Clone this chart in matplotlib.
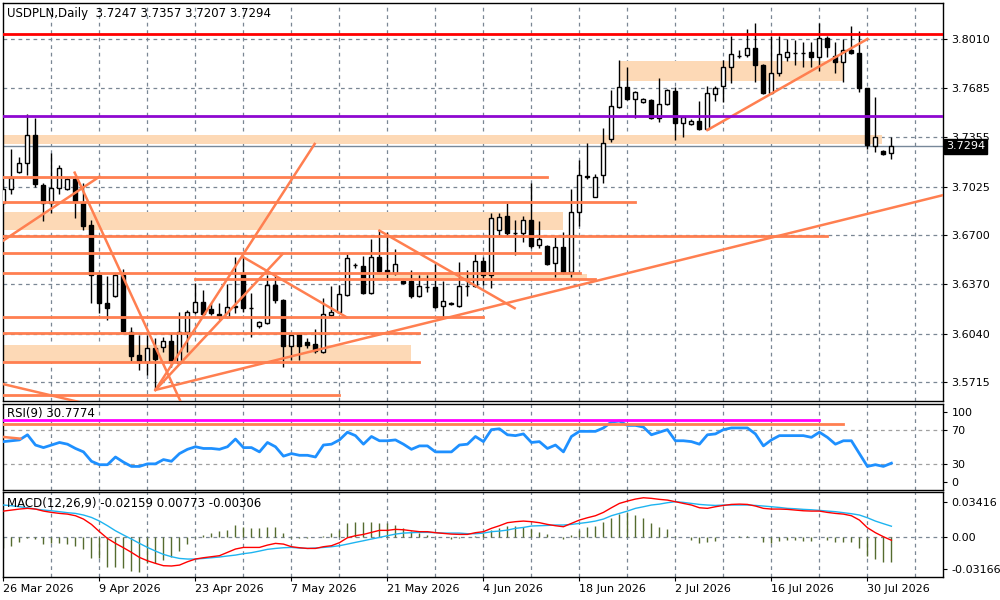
import numpy as np
import matplotlib.pyplot as plt
from matplotlib.transforms import blended_transform_factory

# daily candles, USDPLN
opens = [3.6915, 3.7009, 3.7122, 3.7183, 3.7370, 3.7035, 3.6915, 3.7015, 3.7009, 3.7075,
         3.6915, 3.6768, 3.6433, 3.6246, 3.6293, 3.6433, 3.6052, 3.5898, 3.5851, 3.5945,
         3.5952, 3.5992, 3.5845, 3.6052, 3.6186, 3.6253, 3.6206, 3.6172, 3.6152, 3.6219,
         3.6440, 3.6212, 3.6092, 3.6112, 3.6366, 3.6266, 3.5958, 3.6039, 3.5985, 3.5972,
         3.5918, 3.6166, 3.6186, 3.6299, 3.6500, 3.6493, 3.6313, 3.6554, 3.6467, 3.6447,
         3.6393, 3.6393, 3.6293, 3.6353, 3.6353, 3.6226, 3.6246, 3.6226, 3.6360, 3.6360,
         3.6527, 3.6433, 3.6734, 3.6828, 3.6714, 3.6714, 3.6801, 3.6634, 3.6627, 3.6514,
         3.6621, 3.6453, 3.6855, 3.7096, 3.6955, 3.7102, 3.7343, 3.7557, 3.7691, 3.7611,
         3.7591, 3.7604, 3.7484, 3.7577, 3.7664, 3.7450, 3.7443, 3.7464, 3.7410, 3.7644,
         3.7698, 3.7825, 3.7898, 3.7905, 3.7952, 3.7838, 3.7651, 3.7785, 3.7892, 3.7918,
         3.7918, 3.7925, 3.7892, 3.8019, 3.7898, 3.7858, 3.7938, 3.7918, 3.7684, 3.7296,
         3.7263, 3.7247]
highs = [3.7029, 3.7276, 3.7223, 3.7510, 3.7484, 3.7049, 3.7249, 3.7169, 3.7089, 3.7096,
         3.7049, 3.6801, 3.6453, 3.6427, 3.6447, 3.6473, 3.6085, 3.6032, 3.6032, 3.6012,
         3.6018, 3.6045, 3.6186, 3.6199, 3.6380, 3.6333, 3.6246, 3.6246, 3.6373, 3.6554,
         3.6554, 3.6313, 3.6125, 3.6433, 3.6433, 3.6273, 3.6039, 3.6045, 3.6012, 3.6072,
         3.6279, 3.6360, 3.6366, 3.6574, 3.6514, 3.6560, 3.6674, 3.6734, 3.6721, 3.6607,
         3.6400, 3.6467, 3.6433, 3.6433, 3.6507, 3.6393, 3.6253, 3.6520, 3.6467, 3.6580,
         3.6554, 3.6848, 3.6848, 3.6915, 3.6801, 3.6828, 3.7049, 3.6795, 3.6634, 3.6687,
         3.6721, 3.7009, 3.7203, 3.7316, 3.7109, 3.7417, 3.7671, 3.7872, 3.7825, 3.7664,
         3.7617, 3.7611, 3.7751, 3.7678, 3.7691, 3.7490, 3.7477, 3.7597, 3.7698, 3.7698,
         3.7872, 3.8032, 3.7938, 3.8079, 3.8119, 3.7845, 3.8032, 3.8032, 3.8012, 3.8005,
         3.7992, 3.7992, 3.8119, 3.8032, 3.7992, 3.8012, 3.8099, 3.8066, 3.7684, 3.7624,
         3.7270, 3.7357]
lows = [3.6908, 3.6975, 3.7116, 3.7102, 3.7022, 3.6795, 3.6848, 3.6975, 3.7002, 3.6815,
        3.6734, 3.6246, 3.6179, 3.6132, 3.6286, 3.6052, 3.5858, 3.5798, 3.5764, 3.5664,
        3.5918, 3.5818, 3.5838, 3.5918, 3.6172, 3.6166, 3.6166, 3.6139, 3.6146, 3.6179,
        3.6186, 3.6018, 3.6079, 3.6105, 3.6246, 3.5818, 3.5865, 3.5865, 3.5945, 3.5911,
        3.5911, 3.6152, 3.6179, 3.6293, 3.6480, 3.6306, 3.6306, 3.6453, 3.6413, 3.6433,
        3.6373, 3.6279, 3.6286, 3.6320, 3.6212, 3.6152, 3.6233, 3.6219, 3.6293, 3.6353,
        3.6366, 3.6346, 3.6701, 3.6701, 3.6567, 3.6654, 3.6614, 3.6614, 3.6500, 3.6420,
        3.6440, 3.6420, 3.6761, 3.7075, 3.6955, 3.7049, 3.7323, 3.7550, 3.7604, 3.7484,
        3.7584, 3.7477, 3.7457, 3.7571, 3.7336, 3.7356, 3.7437, 3.7403, 3.7403, 3.7597,
        3.7591, 3.7718, 3.7885, 3.7892, 3.7724, 3.7644, 3.7644, 3.7765, 3.7865, 3.7838,
        3.7825, 3.7825, 3.7798, 3.7892, 3.7785, 3.7724, 3.7912, 3.7658, 3.7276, 3.7256,
        3.7236, 3.7207]
closes = [3.7009, 3.7082, 3.7183, 3.7370, 3.7042, 3.6915, 3.7015, 3.7149, 3.7075, 3.6928,
          3.6761, 3.6433, 3.6246, 3.6212, 3.6433, 3.6059, 3.5891, 3.5851, 3.5945, 3.5871,
          3.5992, 3.5851, 3.6052, 3.6186, 3.6253, 3.6172, 3.6179, 3.6159, 3.6219, 3.6226,
          3.6212, 3.6212, 3.6119, 3.6366, 3.6266, 3.5958, 3.6032, 3.5958, 3.5965, 3.5925,
          3.6172, 3.6186, 3.6306, 3.6547, 3.6500, 3.6313, 3.6554, 3.6460, 3.6453, 3.6507,
          3.6380, 3.6293, 3.6360, 3.6353, 3.6219, 3.6259, 3.6239, 3.6360, 3.6360, 3.6527,
          3.6433, 3.6815, 3.6821, 3.6714, 3.6714, 3.6801, 3.6627, 3.6674, 3.6507, 3.6621,
          3.6453, 3.6855, 3.7102, 3.7089, 3.7089, 3.7316, 3.7564, 3.7691, 3.7611, 3.7658,
          3.7611, 3.7484, 3.7577, 3.7671, 3.7450, 3.7490, 3.7464, 3.7410, 3.7651, 3.7684,
          3.7825, 3.7912, 3.7898, 3.7952, 3.7838, 3.7651, 3.7785, 3.7912, 3.7925, 3.7918,
          3.7918, 3.7892, 3.8019, 3.7959, 3.7858, 3.7938, 3.7918, 3.7684, 3.7303, 3.7356,
          3.7243, 3.7294]

rsi = [56, 57, 58, 64, 52, 49, 52, 55, 53, 48,
       44, 33, 29, 29, 38, 32, 27, 27, 30, 30,
       35, 33, 42, 47, 50, 48, 48, 47, 50, 59,
       49, 49, 44, 55, 50, 39, 42, 40, 40, 38,
       52, 53, 58, 67, 63, 53, 62, 57, 57, 58,
       53, 47, 51, 51, 44, 44, 44, 52, 53, 62,
       56, 70, 71, 64, 63, 65, 55, 56, 48, 52,
       44, 62, 68, 68, 68, 72, 79, 80, 75, 75,
       73, 64, 67, 70, 57, 57, 56, 53, 64, 65,
       70, 72, 72, 72, 65, 51, 58, 63, 63, 63,
       63, 61, 67, 61, 53, 57, 57, 42, 27, 29,
       27, 30.78]

macd_main = [0.0254, 0.0264, 0.0274, 0.0281, 0.0274, 0.0254, 0.0241, 0.0231, 0.0224, 0.0208,
             0.0175, 0.0122, 0.0050, -0.0017, -0.0066, -0.0109, -0.0155, -0.0205, -0.0238, -0.0264,
             -0.0287, -0.0290, -0.0281, -0.0248, -0.0221, -0.0208, -0.0198, -0.0188, -0.0155, -0.0122,
             -0.0106, -0.0106, -0.0106, -0.0083, -0.0066, -0.0073, -0.0099, -0.0109, -0.0116, -0.0116,
             -0.0099, -0.0089, -0.0059, -0.0010, 0.0010, 0.0023, 0.0043, 0.0063, 0.0063, 0.0073,
             0.0069, 0.0059, 0.0050, 0.0050, 0.0040, 0.0033, 0.0026, 0.0023, 0.0023, 0.0040,
             0.0050, 0.0083, 0.0109, 0.0139, 0.0149, 0.0155, 0.0149, 0.0139, 0.0122, 0.0109,
             0.0099, 0.0132, 0.0165, 0.0188, 0.0208, 0.0241, 0.0287, 0.0330, 0.0353, 0.0373,
             0.0386, 0.0380, 0.0370, 0.0363, 0.0347, 0.0330, 0.0314, 0.0287, 0.0281, 0.0297,
             0.0310, 0.0320, 0.0323, 0.0320, 0.0304, 0.0281, 0.0274, 0.0274, 0.0271, 0.0264,
             0.0257, 0.0254, 0.0254, 0.0241, 0.0231, 0.0224, 0.0208, 0.0165, 0.0089, 0.0040,
             0.0000, -0.0035]
macd_signal = [0.0314, 0.0307, 0.0297, 0.0287, 0.0274, 0.0264, 0.0257, 0.0248, 0.0238, 0.0231,
               0.0215, 0.0191, 0.0155, 0.0109, 0.0059, 0.0017, -0.0023, -0.0066, -0.0106, -0.0142,
               -0.0175, -0.0198, -0.0215, -0.0221, -0.0221, -0.0215, -0.0208, -0.0201, -0.0191, -0.0182,
               -0.0168, -0.0158, -0.0142, -0.0125, -0.0116, -0.0109, -0.0106, -0.0112, -0.0116, -0.0112,
               -0.0106, -0.0099, -0.0089, -0.0073, -0.0056, -0.0040, -0.0023, -0.0007, 0.0010, 0.0026,
               0.0036, 0.0040, 0.0043, 0.0043, 0.0040, 0.0036, 0.0036, 0.0036, 0.0030, 0.0030,
               0.0036, 0.0050, 0.0056, 0.0066, 0.0083, 0.0092, 0.0106, 0.0109, 0.0112, 0.0116,
               0.0116, 0.0122, 0.0132, 0.0142, 0.0155, 0.0175, 0.0208, 0.0231, 0.0254, 0.0281,
               0.0297, 0.0314, 0.0323, 0.0337, 0.0347, 0.0340, 0.0330, 0.0320, 0.0314, 0.0310,
               0.0314, 0.0314, 0.0314, 0.0314, 0.0310, 0.0304, 0.0297, 0.0290, 0.0281, 0.0277,
               0.0271, 0.0267, 0.0261, 0.0254, 0.0248, 0.0238, 0.0228, 0.0215, 0.0188, 0.0155,
               0.0129, 0.0104]
macd_hist = [-0.0116, -0.0089, -0.0050, -0.0010, -0.0023, -0.0073, -0.0066, -0.0059, -0.0076, -0.0089,
             -0.0122, -0.0208, -0.0215, -0.0304, -0.0304, -0.0314, -0.0337, -0.0347, -0.0264, -0.0264,
             -0.0231, -0.0205, -0.0139, -0.0073, -0.0017, 0.0017, 0.0033, 0.0056, 0.0066, 0.0116,
             0.0092, 0.0089, 0.0089, 0.0092, 0.0092, 0.0040, -0.0010, -0.0010, -0.0010, 0.0000,
             0.0007, 0.0040, 0.0066, 0.0132, 0.0142, 0.0142, 0.0149, 0.0139, 0.0132, 0.0116,
             0.0083, 0.0056, 0.0033, 0.0017, 0.0000, -0.0007, -0.0023, -0.0017, 0.0000, 0.0007,
             0.0033, 0.0066, 0.0083, 0.0106, 0.0106, 0.0099, 0.0073, 0.0050, 0.0023, 0.0000,
             -0.0026, 0.0017, 0.0066, 0.0092, 0.0109, 0.0149, 0.0188, 0.0224, 0.0248, 0.0215,
             0.0188, 0.0132, 0.0092, 0.0076, 0.0010, 0.0000, -0.0033, -0.0059, -0.0050, -0.0040,
             -0.0007, 0.0000, 0.0010, 0.0007, -0.0007, -0.0050, -0.0066, -0.0040, -0.0033, -0.0033,
             -0.0040, -0.0043, 0.0000, -0.0033, -0.0050, -0.0056, -0.0056, -0.0109, -0.0191, -0.0224,
             -0.0254, -0.0254]

date_labels = ['26 Mar 2026', '9 Apr 2026', '23 Apr 2026', '7 May 2026', '21 May 2026',
               '4 Jun 2026', '18 Jun 2026', '2 Jul 2026', '16 Jul 2026', '30 Jul 2026']
date_bars = [0, 12, 24, 36, 48, 60, 72, 84, 96, 108]
price_ticks = [3.8010, 3.7685, 3.7355, 3.7025, 3.6700, 3.6370, 3.6040, 3.5715]

# drawn objects (price levels, zones, trend lines) in bar / price units
red_level = 3.8044
purple_level = 3.7499
last_price = 3.7294
levels = [(3.7091, 68.0), (3.6920, 78.9), (3.6694, 102.9), (3.6582, 67.1),
          (3.6449, 72.1), (3.6151, 59.9), (3.6047, 51.9), (3.5853, 51.9), (3.5630, 41.9)]
short_level = (3.6405, 24.0, 73.9)
zones = [(3.7310, 3.7370, -1, 109.8), (3.7731, 3.7865, 76.9, 104.9),
         (3.6734, 3.6857, -1, 69.9), (3.6405, 3.6438, 46.4, 72.9),
         (3.5849, 3.5965, -1, 50.9)]
trends = [((-0.1, 3.6661), (12.0, 3.7091)),
          ((8.9, 3.7118), (22.2, 3.5580)),
          ((19.0, 3.5664), (38.9, 3.7310)),
          ((19.0, 3.5664), (34.9, 3.6574)),
          ((30.0, 3.6552), (42.9, 3.6150)),
          ((47.0, 3.6730), (63.9, 3.6211)),
          ((19.0, 3.5664), (117.5, 3.6968)),
          ((88.0, 3.7403), (108.0, 3.8012)),
          ((-0.1, 3.5704), (10.5, 3.5570))]

ORANGE = '#FF7F50'
PEACH = '#FDD9B6'
GRID = '#7A8794'

W, H = 1000, 600
fig = plt.figure(figsize=(10, 6), dpi=100)
plt.rcParams['font.family'] = ['DejaVu Sans']


def box(x0, y0, x1, y1):
    return [x0 / W, 1 - y1 / H, (x1 - x0) / W, (y1 - y0) / H]


ax = fig.add_axes(box(3, 3, 943, 401))
ax_rsi = fig.add_axes(box(3, 404, 943, 489.5))
ax_macd = fig.add_axes(box(3, 491.7, 943, 576.7))

x = np.arange(len(closes))
xlim = (-0.06, 117.45)
vgrid = np.arange(6, 117, 6)

for a in (ax, ax_rsi, ax_macd):
    a.set_xlim(*xlim)
    for v in vgrid:
        a.axvline(v, color=GRID, lw=0.9, ls=(0, (3, 3)), zorder=0)
    a.yaxis.tick_right()
    a.tick_params(axis='y', length=3, pad=3, labelsize=8, colors='black')
    for s in a.spines.values():
        s.set_color('black')
        s.set_linewidth(1)

# ---- price panel
ax.set_ylim(3.5590, 3.8253)
ax.set_xticks([])
ax.set_yticks(price_ticks)
ax.set_yticklabels([f'{p:.4f}' for p in price_ticks])
for p in price_ticks:
    ax.axhline(p, color=GRID, lw=0.9, ls=(0, (3, 3)), zorder=0)

for lo, hi, b0, b1 in zones:
    ax.fill_between([b0, b1], lo, hi, color=PEACH, lw=0, zorder=1)

o = np.array(opens)
c = np.array(closes)
up = c >= o
ax.vlines(x, lows, highs, color='black', lw=1, zorder=3)
body_lo = np.minimum(o, c)
body_h = np.maximum(np.abs(c - o), 0.00003)
ax.bar(x[up], body_h[up], bottom=body_lo[up], width=0.5, facecolor='white',
       edgecolor='black', lw=1, zorder=4)
ax.bar(x[~up], body_h[~up], bottom=body_lo[~up], width=0.5, facecolor='black',
       edgecolor='black', lw=1, zorder=4)

for lvl, b1 in levels:
    ax.plot([-1, b1], [lvl, lvl], color=ORANGE, lw=2, zorder=5)
ax.plot([short_level[1], short_level[2]], [short_level[0]] * 2, color=ORANGE, lw=2, zorder=5)
for (b0, p0), (b1, p1) in trends:
    ax.plot([b0, b1], [p0, p1], color=ORANGE, lw=1.8, zorder=5)

ax.axhline(red_level, color='red', lw=2, zorder=5)
ax.axhline(purple_level, color='#8E08D0', lw=2, zorder=5)
ax.axhline(last_price, color='#778899', lw=1, zorder=2)

tr = blended_transform_factory(ax.transAxes, ax.transData)
ax.text(1.003, last_price, f'{last_price:.4f}', transform=tr, color='white', fontsize=8,
        va='center', ha='left', clip_on=False, zorder=10,
        bbox=dict(facecolor='black', edgecolor='black', pad=1.6))

fig.text(7 / W, 1 - 13 / H, 'USDPLN,Daily  3.7247 3.7357 3.7207 3.7294',
         fontsize=8.5, va='center', ha='left')

# ---- RSI panel
ax_rsi.set_ylim(0, 100)
ax_rsi.set_xticks([])
ax_rsi.plot(x, rsi, color='#1E90FF', lw=2, zorder=3)
for lv in (70, 30):
    ax_rsi.axhline(lv, color='#A0A0A0', lw=0.9, ls=(0, (3, 3)), zorder=0)
ax_rsi.plot([-1, 102.0], [81.7, 81.7], color='magenta', lw=2, zorder=4)
ax_rsi.plot([-1, 105.0], [77.0, 77.0], color=ORANGE, lw=2, zorder=4)
ax_rsi.plot([-0.1, 2.1], [61.5, 59.5], color=ORANGE, lw=1.8, zorder=4)
ax_rsi.set_yticks([91, 70, 30, 9])
ax_rsi.set_yticklabels(['100', '70', '30', '0'])
fig.text(7 / W, 1 - 413 / H, 'RSI(9) 30.7774', fontsize=8.5, va='center', ha='left')

# ---- MACD panel
ax_macd.set_ylim(-0.0396, 0.0446)
ax_macd.vlines(x, 0, macd_hist, color='#556B2F', lw=1, zorder=2)
ax_macd.plot(x, macd_signal, color='#1EB4F0', lw=1, zorder=3)
ax_macd.plot(x, macd_main, color='red', lw=1, zorder=4)
ax_macd.axhline(0, color=GRID, lw=0.9, ls=(0, (3, 3)), zorder=0)
ax_macd.set_yticks([0.03416, 0.0, -0.03166])
ax_macd.set_yticklabels(['0.03416', '0.00', '-0.03166'])
ax_macd.set_xticks(date_bars)
ax_macd.set_xticklabels(date_labels, ha='left', fontsize=8)
ax_macd.tick_params(axis='x', length=3, pad=2)
fig.text(7 / W, 1 - 503 / H, 'MACD(12,26,9) -0.02159 0.00773 -0.00306',
         fontsize=8.5, va='center', ha='left')

fig.savefig('out.png', dpi=100)
